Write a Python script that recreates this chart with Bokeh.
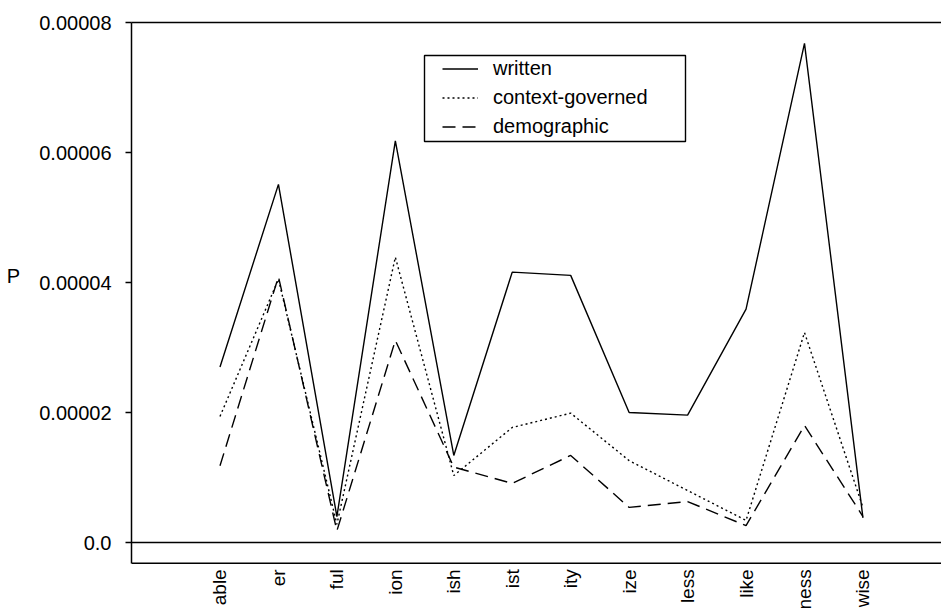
import math
from bokeh.plotting import figure
from bokeh.models import Range1d, FixedTicker, Span, Legend, LegendItem, BoxAnnotation, LinearAxis
from bokeh.core.properties import value
from bokeh.embed import file_html
from bokeh.resources import INLINE

# ---- data ----
suffixes = ["able", "er", "ful", "ion", "ish", "ist", "ity", "ize", "less", "like", "ness", "wise"]
written = [2.70e-5, 5.51e-5, 4.0e-6, 6.18e-5, 1.34e-5, 4.16e-5, 4.11e-5, 2.00e-5, 1.96e-5, 3.59e-5, 7.68e-5, 3.8e-6]
context_governed = [1.94e-5, 4.05e-5, 2.8e-6, 4.39e-5, 1.03e-5, 1.77e-5, 1.99e-5, 1.26e-5, 0.80e-5, 0.34e-5, 3.23e-5, 5.4e-6]
demographic = [1.18e-5, 4.09e-5, 1.8e-6, 3.11e-5, 1.16e-5, 0.91e-5, 1.34e-5, 0.54e-5, 0.63e-5, 0.26e-5, 1.80e-5, 4.0e-6]
y_ticks = [0.0, 0.00002, 0.00004, 0.00006, 0.00008]
y_tick_labels = ["0.0", "0.00002", "0.00004", "0.00006", "0.00008"]
series_names = ["written", "context-governed", "demographic"]
y_title = "P"

FONT = "Liberation Sans"
positions = list(range(1, len(suffixes) + 1))
box_bottom, y_hi = -3.2e-6, 8e-5
y_lo = -1.015e-5   # frame extends below the box so the suffix labels fit

p = figure(width=941, height=608,
           x_range=Range1d(-0.514, 13.344), y_range=Range1d(y_lo, y_hi),
           output_backend="svg", toolbar_location=None,
           min_border_left=131, min_border_right=0, min_border_top=22, min_border_bottom=0)
p.outline_line_color = None
p.xgrid.visible = False
p.ygrid.visible = False
p.xaxis.visible = False
p.background_fill_color = "white"
p.border_fill_color = "white"

# y axis
ya = p.yaxis[0]
ya.bounds = (box_bottom, y_hi)
ya.ticker = FixedTicker(ticks=y_ticks)
ya.major_label_overrides = {t: s for t, s in zip(y_ticks, y_tick_labels)}
ya.minor_tick_line_color = None
ya.major_tick_in = 0
ya.major_tick_out = 6
ya.major_tick_line_width = 1.3
ya.axis_line_width = 1.5
ya.major_label_standoff = 14
ya.major_label_text_font = FONT
ya.major_label_text_font_size = "20px"
ya.major_label_text_color = "black"
# trailing empty lines lift the title to the level of the 0.00004 tick
ya.axis_label = y_title + "\n\n\n"
ya.axis_label_orientation = "horizontal"
ya.axis_label_text_font = FONT
ya.axis_label_text_font_size = "20px"
ya.axis_label_text_font_style = "normal"
ya.axis_label_text_color = "black"
ya.axis_label_standoff = 16

# top border of the box
top = LinearAxis(ticker=FixedTicker(ticks=[]), axis_line_width=1.5,
                 major_tick_line_color=None, minor_tick_line_color=None,
                 major_label_text_font_size="0px")
p.add_layout(top, "above")

# bottom border of the box and zero line
p.add_layout(Span(location=box_bottom, dimension="width", line_color="black", line_width=1.5))
p.add_layout(Span(location=0, dimension="width", line_color="black", line_width=1.3))

# suffix labels below the box
p.text(x=positions, y=[box_bottom] * len(positions), text=suffixes,
       angle=math.pi / 2, y_offset=6, text_align="right", text_baseline="middle",
       text_font=value(FONT), text_font_size="19px", text_color="black")

r1 = p.line(positions, written, line_color="black", line_width=1.4)
r2 = p.line(positions, context_governed, line_color="black", line_width=1.4, line_dash="2 3")
r3 = p.line(positions, demographic, line_color="black", line_width=1.4, line_dash="13 7")

legend = Legend(items=[LegendItem(label=series_names[0], renderers=[r1]),
                       LegendItem(label=series_names[1], renderers=[r2]),
                       LegendItem(label=series_names[2], renderers=[r3])],
                location=(311, 467), padding=0, margin=0, spacing=0,
                glyph_width=36, glyph_height=29, label_height=29, label_standoff=15,
                label_text_font=FONT, label_text_font_size="20px", label_text_color="black",
                border_line_color=None, background_fill_alpha=0)
p.add_layout(legend, "center")

p.add_layout(BoxAnnotation(left=293, right=554, bottom=467, top=553,
                           left_units="screen", right_units="screen",
                           bottom_units="screen", top_units="screen",
                           fill_alpha=0, line_color="black", line_alpha=1, line_width=1.4))

open("out.html", "w").write(file_html(p, INLINE))
